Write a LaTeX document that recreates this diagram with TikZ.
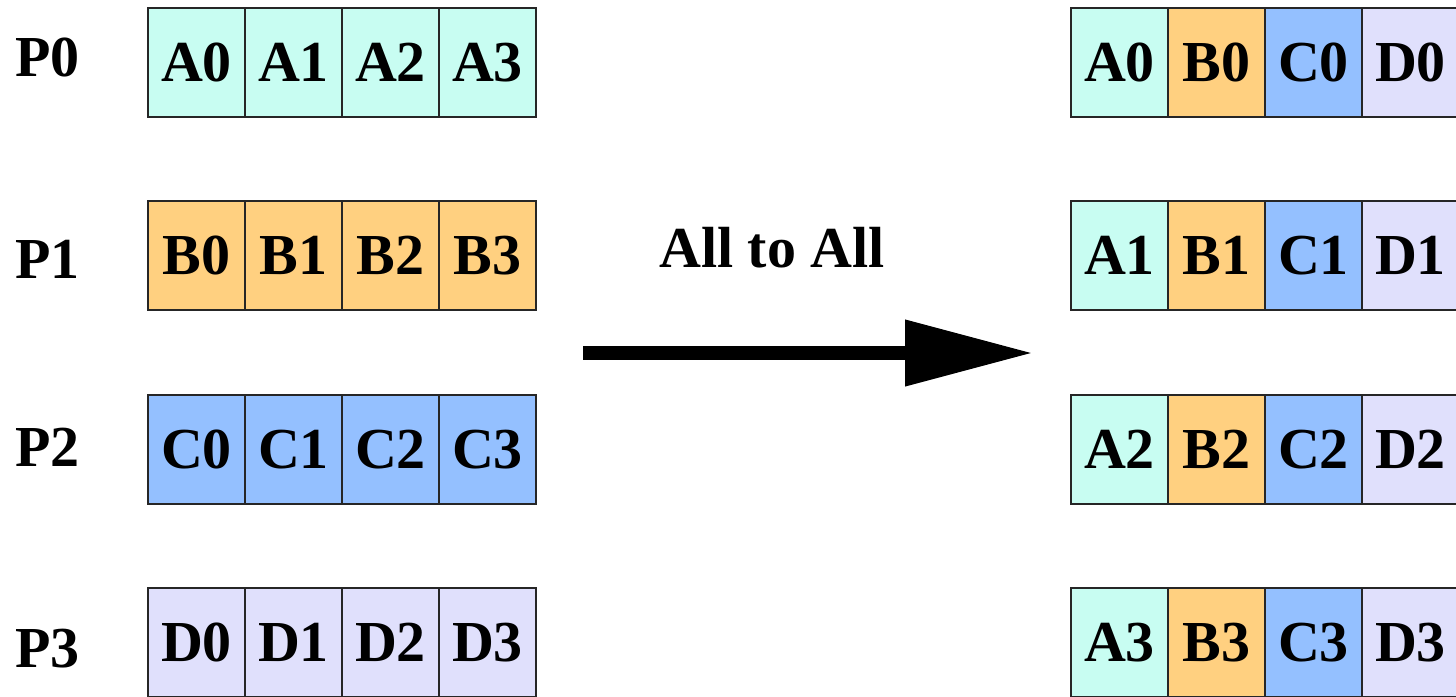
\documentclass[tikz,border=0pt]{standalone}
\usepackage{fontspec}
\setmainfont{Liberation Serif}
\usepackage{xcolor}
\usepackage{tikz}
\usetikzlibrary{positioning}
\usetikzlibrary{arrows.meta}
\definecolor{cellA}{RGB}{200,253,242}
\definecolor{cellB}{RGB}{255,208,128}
\definecolor{cellC}{RGB}{148,192,255}
\definecolor{cellD}{RGB}{224,224,252}
\tikzstyle{cell}=[rectangle,draw=black!85,line width=1pt,minimum width=48.5pt,minimum height=54.5pt,inner sep=0pt,font=\fontsize{29}{34}\selectfont\bfseries]
\tikzstyle{proc}=[inner sep=0pt,font=\fontsize{29}{34}\selectfont\bfseries]
\tikzstyle{bigarrow}=[draw,line width=7pt,-{Triangle[length=64pt,width=31.5pt]}]

\begin{document}
\begin{tikzpicture}[x=0.5pt,y=-0.5pt]

  \useasboundingbox (0,0) rectangle (1456,696);
  \clip (0,0) rectangle (1456,696);

  \def\dx{196.5};
  \def\dy{62.5};
  \def\u{97};
  \def\v{193.3};
  \def\rx{1119.5};

  % processes
  \foreach \y/\name/\label/\off in {0/p0/P0/-5, 1/p1/P1/4, 2/p2/P2/-2, 3/p3/P3/6}
         \node[proc] (\name) at (47.5, \y*\v+\dy+\off) {\label};

  % before
  \foreach \x/\y/\name/\label in {0/0/A0/A0, 1/0/A1/A1, 2/0/A2/A2, 3/0/A3/A3}
         \node[cell, fill=cellA] (\name) at (\x*\u+\dx, \y*\v+\dy) {\label};

  \foreach \x/\y/\name/\label in {0/1/B0/B0, 1/1/B1/B1, 2/1/B2/B2, 3/1/B3/B3}
         \node[cell, fill=cellB] (\name) at (\x*\u+\dx, \y*\v+\dy) {\label};

  \foreach \x/\y/\name/\label in {0/2/C0/C0, 1/2/C1/C1, 2/2/C2/C2, 3/2/C3/C3}
         \node[cell, fill=cellC] (\name) at (\x*\u+\dx, \y*\v+\dy) {\label};

  \foreach \x/\y/\name/\label in {0/3/D0/D0, 1/3/D1/D1, 2/3/D2/D2, 3/3/D3/D3}
         \node[cell, fill=cellD] (\name) at (\x*\u+\dx, \y*\v+\dy) {\label};

  % after
  \foreach \x/\y/\name/\label in {0/0/outA0/A0, 0/1/outA1/A1, 0/2/outA2/A2, 0/3/outA3/A3}
         \node[cell, fill=cellA] (\name) at (\x*\u+\rx, \y*\v+\dy) {\label};

  \foreach \x/\y/\name/\label in {1/0/outB0/B0, 1/1/outB1/B1, 1/2/outB2/B2, 1/3/outB3/B3}
         \node[cell, fill=cellB] (\name) at (\x*\u+\rx, \y*\v+\dy) {\label};

  \foreach \x/\y/\name/\label in {2/0/outC0/C0, 2/1/outC1/C1, 2/2/outC2/C2, 2/3/outC3/C3}
         \node[cell, fill=cellC] (\name) at (\x*\u+\rx, \y*\v+\dy) {\label};

  \foreach \x/\y/\name/\label in {3/0/outD0/D0, 3/1/outD1/D1, 3/2/outD2/D2, 3/3/outD3/D3}
         \node[cell, fill=cellD] (\name) at (\x*\u+\rx, \y*\v+\dy) {\label};

  % exchange
  \coordinate (arrowstart) at (583,353);
  \coordinate (arrowend) at (1033,353);
  \path[bigarrow] (arrowstart) -- (arrowend);
  \node[proc] (alltoall) at (772,248) {All to All};

\end{tikzpicture}
\end{document}
